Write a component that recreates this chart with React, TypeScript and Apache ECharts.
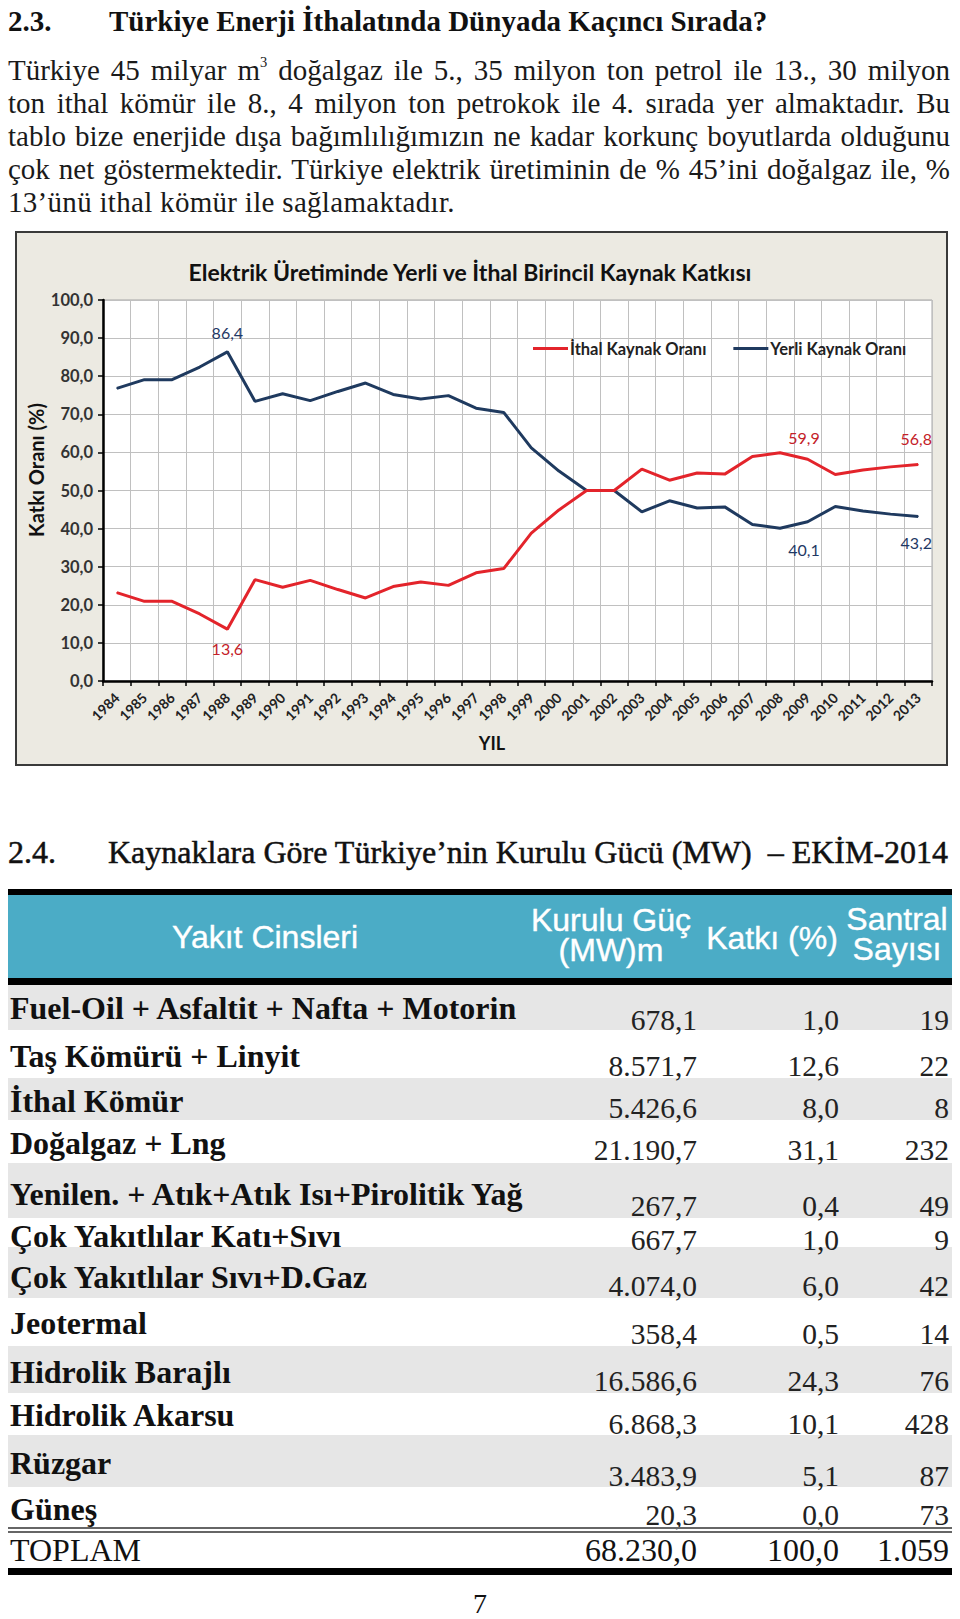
import React, { useEffect, useRef } from "react";
import * as echarts from "echarts";

// ---------- DATA ----------
const years = ["1984","1985","1986","1987","1988","1989","1990","1991","1992","1993","1994","1995","1996","1997","1998","1999","2000","2001","2002","2003","2004","2005","2006","2007","2008","2009","2010","2011","2012","2013"];
const ithalOrani = [23.2, 20.9, 20.9, 17.6, 13.6, 26.6, 24.6, 26.4, 24.0, 21.8, 24.8, 26.0, 25.1, 28.4, 29.5, 38.8, 44.9, 50.0, 50.0, 55.6, 52.7, 54.6, 54.3, 58.9, 59.9, 58.2, 54.2, 55.4, 56.2, 56.8];
const yerliOrani = [76.8, 79.1, 79.1, 82.4, 86.4, 73.4, 75.4, 73.6, 76.0, 78.2, 75.2, 74.0, 74.9, 71.6, 70.5, 61.2, 55.1, 50.0, 50.0, 44.4, 47.3, 45.4, 45.7, 41.1, 40.1, 41.8, 45.8, 44.6, 43.8, 43.2];
const seriesNames = ["İthal Kaynak Oranı", "Yerli Kaynak Oranı"];
const chartTitle = "Elektrik Üretiminde Yerli ve İthal Birincil Kaynak Katkısı";
const yAxisName = "Katkı Oranı (%)";
const xAxisName = "YIL";
// indices of labelled points
const ithalLabelled = [4, 24, 29];
const yerliLabelled = [4, 24, 29];

const fuelTypes = [
  "Fuel-Oil + Asfaltit + Nafta + Motorin",
  "Taş Kömürü + Linyit",
  "İthal Kömür",
  "Doğalgaz + Lng",
  "Yenilen. + Atık+Atık Isı+Pirolitik Yağ",
  "Çok Yakıtlılar Katı+Sıvı",
  "Çok Yakıtlılar Sıvı+D.Gaz",
  "Jeotermal",
  "Hidrolik Barajlı",
  "Hidrolik Akarsu",
  "Rüzgar",
  "Güneş",
];
const installedMW = [678.1, 8571.7, 5426.6, 21190.7, 267.7, 667.7, 4074.0, 358.4, 16586.6, 6868.3, 3483.9, 20.3];
const sharePct = [1.0, 12.6, 8.0, 31.1, 0.4, 1.0, 6.0, 0.5, 24.3, 10.1, 5.1, 0.0];
const plantCount = [19, 22, 8, 232, 49, 9, 42, 14, 76, 428, 87, 73];
const totalLabel = "TOPLAM";
const totalMW = 68230.0;
const totalPct = 100.0;
const totalPlants = 1059;
const tableHeaders = ["Yakıt Cinsleri", "Kurulu Güç\n(MW)m", "Katkı (%)", "Santral\nSayısı"];

const heading1Num = "2.3.";
const heading1Text = "Türkiye Enerji İthalatında Dünyada Kaçıncı Sırada?";
const heading2Num = "2.4.";
const heading2Text = "Kaynaklara Göre Türkiye’nin Kurulu Gücü (MW)  – EKİM-2014";
const paraLines = [
  "ton ithal kömür ile 8.,  4 milyon ton petrokok ile 4. sırada yer almaktadır. Bu",
  "tablo bize enerjide dışa bağımlılığımızın ne kadar korkunç boyutlarda olduğunu",
  "çok net göstermektedir. Türkiye elektrik üretiminin de % 45’ini doğalgaz ile, %",
];
const paraLastLine = "13’ünü ithal kömür ile sağlamaktadır.";
const pageNumber = "7";

// ---------- LAYOUT (not data) ----------
// [bandTop, bandBottom, nameCenterY, valueCenterY]
const rowLayout = [
  [985, 1030, 1008, 1020],
  [1030, 1078, 1056, 1066],
  [1078, 1120, 1101, 1108],
  [1120, 1163, 1143, 1150],
  [1163, 1218, 1194, 1206],
  [1218, 1247, 1236, 1240],
  [1247, 1298, 1277, 1286],
  [1298, 1346, 1323, 1334],
  [1346, 1393, 1372, 1381],
  [1393, 1435, 1415, 1424],
  [1435, 1487, 1463, 1476],
  [1487, 1527, 1509, 1515],
];

function fmtTr(v: number, decimals: number): string {
  const fixed = v.toFixed(decimals);
  const [intPart, dec] = fixed.split(".");
  const withDots = intPart.replace(/\B(?=(\d{3})+(?!\d))/g, ".");
  return dec !== undefined ? withDots + "," + dec : withDots;
}

const RED = "#E3242B";
const NAVY = "#1F3A5F";
const RED_LABEL = "#C42128";
const NAVY_LABEL = "#1F3864";

function Chart() {
  const ref = useRef<HTMLDivElement>(null);
  useEffect(() => {
    if (!ref.current) return;
    const chart = echarts.init(ref.current, undefined, { renderer: "svg" });
    const labelFmt = (p: any) => fmtTr(p.value, 1);
    const ithalLabelCfg: Record<number, any> = {
      4: { position: "bottom", offset: [0, 6] },
      24: { position: "top", offset: [24, -2] },
      29: { position: "top", offset: [-2, -13] },
    };
    const yerliLabelCfg: Record<number, any> = {
      4: { position: "top", offset: [0, -6] },
      24: { position: "bottom", offset: [24, 8] },
      29: { position: "bottom", offset: [-2, 13] },
    };
    const mk = (vals: number[], idx: number[], cfg: Record<number, any>, color: string) =>
      vals.map((v, i) =>
        idx.includes(i)
          ? { value: v, label: { show: true, ...cfg[i], color, fontSize: 16, fontFamily: "Lato", formatter: labelFmt } }
          : v
      );
    const option: any = {
      animation: false,
      backgroundColor: "transparent",
      textStyle: { fontFamily: "Lato" },
      grid: { left: 86, top: 67, width: 829, height: 381, show: true, backgroundColor: "#ffffff", borderColor: "#A6A6A6", borderWidth: 1 },
      legend: {
        data: seriesNames,
        left: 511,
        top: 102,
        icon: "rect",
        itemWidth: 35,
        itemHeight: 3,
        itemGap: 27,
        textStyle: { fontFamily: "Lato", fontWeight: "bold", fontSize: 16.5, color: "#222", padding: [0, 0, 0, -3] },
      },
      xAxis: {
        type: "category",
        data: years,
        boundaryGap: true,
        axisLine: { show: true, lineStyle: { color: "#000", width: 2.5 } },
        axisTick: { show: true, length: 5, interval: 0, lineStyle: { color: "#000", width: 1.5 } },
        axisLabel: { interval: 0, rotate: 45, fontSize: 14, fontWeight: "bold", color: "#222", margin: 14, fontFamily: "Lato" },
        splitLine: { show: true, interval: 0, lineStyle: { color: "#C0C0C0", width: 1 } },
      },
      yAxis: {
        type: "value",
        min: 0,
        max: 100,
        interval: 10,
        axisLine: { show: true, lineStyle: { color: "#000", width: 2.5 } },
        axisTick: { show: true, length: 5, lineStyle: { color: "#000", width: 1.5 } },
        axisLabel: { fontSize: 16.5, fontWeight: "bold", color: "#333", margin: 10, fontFamily: "Lato", formatter: (v: number) => fmtTr(v, 1) },
        splitLine: { show: true, lineStyle: { color: "#C0C0C0", width: 1 } },
      },
      series: [
        { name: seriesNames[0], type: "line", data: mk(ithalOrani, ithalLabelled, ithalLabelCfg, RED_LABEL), symbol: "circle", symbolSize: 1, showSymbol: true, lineStyle: { color: RED, width: 3 }, itemStyle: { color: RED }, z: 3 },
        { name: seriesNames[1], type: "line", data: mk(yerliOrani, yerliLabelled, yerliLabelCfg, NAVY_LABEL), symbol: "circle", symbolSize: 1, showSymbol: true, lineStyle: { color: NAVY, width: 3 }, itemStyle: { color: NAVY }, z: 2 },
      ],
      graphic: [
        { type: "text", x: 453, y: 39, style: { text: chartTitle, fontFamily: "Lato", fontWeight: "bold", fontSize: 23, fill: "#111", textAlign: "center", textVerticalAlign: "middle" } },
        { type: "text", x: 19, y: 237, rotation: Math.PI / 2, style: { text: yAxisName, fontFamily: "Lato", fontWeight: "bold", fontSize: 20, fill: "#111", textAlign: "center", textVerticalAlign: "middle" } },
        { type: "text", x: 475, y: 510, style: { text: xAxisName, fontFamily: "Lato", fontWeight: "bold", fontSize: 18, fill: "#111", textAlign: "center", textVerticalAlign: "middle" } },
      ],
    };
    chart.setOption(option);
    return () => chart.dispose();
  }, []);
  return <div ref={ref} style={{ position: "absolute", left: 17, top: 233, width: 929, height: 531 }} />;
}

const serif = "'Liberation Serif', 'Times New Roman', serif";
const sans = "'Liberation Sans', Arial, sans-serif";

export default function App() {
  const abs = (s: React.CSSProperties): React.CSSProperties => ({ position: "absolute", ...s });
  const lineH = 33;
  const pTop = 54;
  const valStyle = (right: number, cy: number): React.CSSProperties =>
    abs({ left: right - 200, width: 200, top: cy - 18, height: 36, lineHeight: "36px", textAlign: "right", fontSize: 29.5, color: "#222", whiteSpace: "nowrap" });
  const totStyle = (right: number): React.CSSProperties =>
    abs({ left: right - 200, width: 200, top: 1532, height: 36, lineHeight: "36px", fontSize: 32, textAlign: "right", whiteSpace: "nowrap" });
  return (
    <div style={{ position: "absolute", left: 0, top: 0, width: 960, height: 1619, background: "#fff", fontFamily: serif, color: "#111", overflow: "hidden" }}>
      {/* Heading 2.3 */}
      <div style={abs({ left: 8, top: 4, fontSize: 29, fontWeight: "bold", lineHeight: "34px", whiteSpace: "nowrap" })}>{heading1Num}</div>
      <div style={abs({ left: 109, top: 4, fontSize: 29, fontWeight: "bold", lineHeight: "34px", whiteSpace: "nowrap" })}>{heading1Text}</div>

      {/* Paragraph */}
      <div style={abs({ left: 8, top: pTop, width: 942, fontSize: 29, lineHeight: lineH + "px", textAlign: "justify", textAlignLast: "justify", color: "#1a1a1a" })}>
        Türkiye 45 milyar m<sup style={{ fontSize: "0.5em", verticalAlign: "0.9em", lineHeight: 0 }}>3</sup> doğalgaz ile 5.,  35 milyon ton petrol ile 13., 30 milyon
      </div>
      {paraLines.map((t, i) => (
        <div key={i} style={abs({ left: 8, top: pTop + lineH * (i + 1), width: 942, fontSize: 29, lineHeight: lineH + "px", textAlign: "justify", textAlignLast: "justify", color: "#1a1a1a" })}>{t}</div>
      ))}
      <div style={abs({ left: 8, top: pTop + lineH * 4, fontSize: 29, lineHeight: lineH + "px", whiteSpace: "nowrap", letterSpacing: 0.3, color: "#1a1a1a" })}>{paraLastLine}</div>

      {/* Chart frame */}
      <div style={abs({ left: 15, top: 231, width: 933, height: 535, boxSizing: "border-box", border: "2px solid #3a3a3a", background: "#ECEAE2" })} />
      <Chart />

      {/* Heading 2.4 */}
      <div style={abs({ left: 8, top: 834, fontSize: 32, lineHeight: "36px", whiteSpace: "nowrap", WebkitTextStroke: "0.5px #111" })}>{heading2Num}</div>
      <div style={abs({ left: 108, top: 834, fontSize: 32, lineHeight: "36px", whiteSpace: "pre", WebkitTextStroke: "0.5px #111" })}>{heading2Text}</div>

      {/* Table header */}
      <div style={abs({ left: 8, top: 889, width: 944, height: 6, background: "#000" })} />
      <div style={abs({ left: 8, top: 895, width: 944, height: 83, background: "#4BACC6" })} />
      <div style={abs({ left: 8, top: 978, width: 944, height: 7, background: "#000" })} />
      {[
        { t: tableHeaders[0], cx: 265, cy: 937 },
        { t: tableHeaders[1], cx: 611, cy: 935 },
        { t: tableHeaders[2], cx: 772, cy: 938 },
        { t: tableHeaders[3], cx: 897, cy: 934 },
      ].map((h, i) => {
        const lines = h.t.split("\n");
        const lh = 30;
        const hgt = lines.length * lh;
        return (
          <div key={i} style={abs({ left: h.cx - 120, width: 240, top: h.cy - hgt / 2, height: hgt, textAlign: "center", fontFamily: sans, fontSize: 32, lineHeight: lh + "px", color: "#fff", whiteSpace: "pre", WebkitTextStroke: "0.4px #fff" })}>{h.t}</div>
        );
      })}

      {/* Row backgrounds first */}
      {rowLayout.map(([top, bottom], i) => (
        <div key={"bg" + i} style={abs({ left: 8, top, width: 944, height: bottom - top, background: i % 2 === 0 ? "#E6E6E6" : "#fff" })} />
      ))}

      {/* Row texts */}
      {fuelTypes.map((name, i) => {
        const [, , ny, vy] = rowLayout[i];
        return (
          <React.Fragment key={i}>
            <div style={abs({ left: 10, top: ny - 18, height: 36, lineHeight: "36px", fontSize: 32, fontWeight: "bold", whiteSpace: "nowrap" })}>{name}</div>
            <div style={valStyle(697, vy)}>{fmtTr(installedMW[i], 1)}</div>
            <div style={valStyle(839, vy)}>{fmtTr(sharePct[i], 1)}</div>
            <div style={valStyle(949, vy)}>{fmtTr(plantCount[i], 0)}</div>
          </React.Fragment>
        );
      })}

      {/* Double line + total */}
      <div style={abs({ left: 8, top: 1527, width: 944, height: 2, background: "#666" })} />
      <div style={abs({ left: 8, top: 1531, width: 944, height: 2, background: "#666" })} />
      <div style={abs({ left: 10, top: 1532, height: 36, lineHeight: "36px", fontSize: 32, whiteSpace: "nowrap" })}>{totalLabel}</div>
      <div style={totStyle(697)}>{fmtTr(totalMW, 1)}</div>
      <div style={totStyle(839)}>{fmtTr(totalPct, 1)}</div>
      <div style={totStyle(949)}>{fmtTr(totalPlants, 0)}</div>
      <div style={abs({ left: 8, top: 1568, width: 944, height: 7, background: "#000" })} />

      {/* Page number */}
      <div style={abs({ left: 440, width: 80, top: 1590, height: 28, lineHeight: "28px", fontSize: 28, textAlign: "center" })}>{pageNumber}</div>
    </div>
  );
}
